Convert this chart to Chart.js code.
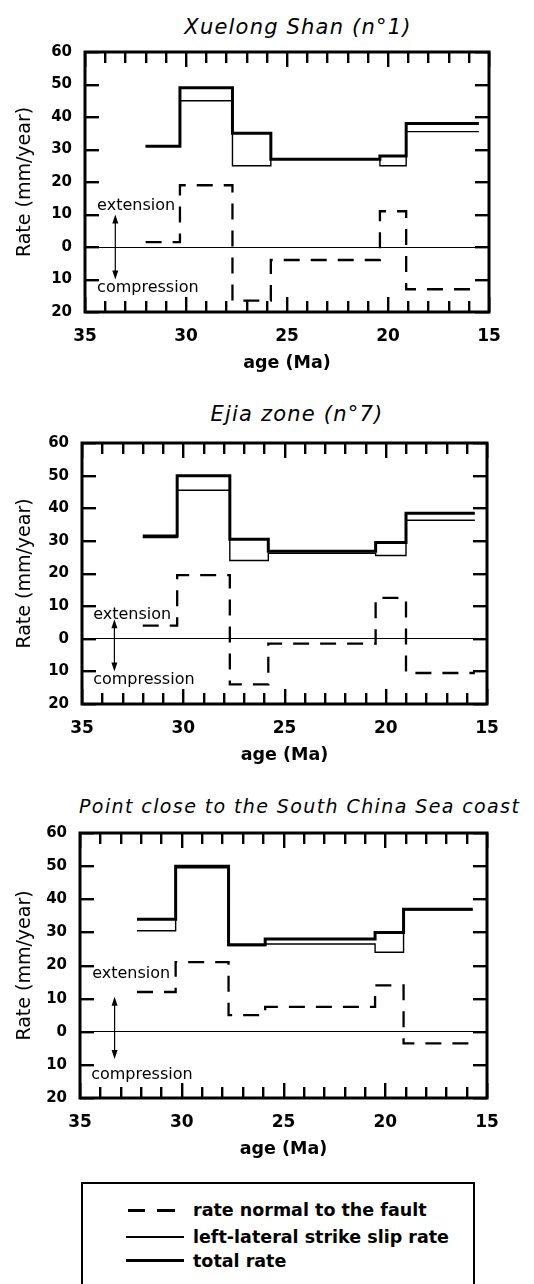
<!DOCTYPE html>
<html>
<head>
<meta charset="utf-8">
<title>Fault slip rates</title>
<script src="https://cdn.jsdelivr.net/npm/chart.js@4.4.1/dist/chart.umd.min.js"></script>
<style>
  html, body { margin: 0; padding: 0; background: #fff; }
  body {
    width: 534px; height: 1284px; position: relative; overflow: hidden;
    font-family: "DejaVu Sans", sans-serif; color: #000;
  }
  canvas { position: absolute; left: 0; }
  .title { position: absolute; font-style: oblique; white-space: nowrap; line-height: 1; }
  #legend-box {
    position: absolute; left: 81px; top: 1182px; width: 394px; height: 120px;
    border: 2.5px solid #000; box-sizing: border-box;
  }
  .leg-text { position: absolute; left: 193px; font-weight: bold; font-size: 17.5px; line-height: 20px; white-space: nowrap; }
  .leg-line { position: absolute; background: #000; }
</style>
</head>
<body>

<div class="title" style="left:298px; top:17px; font-size:21px; letter-spacing:1.2px; transform:translateX(-50%);">Xuelong Shan (n°1)</div>
<canvas id="c1" width="534" height="340" style="top:40px"></canvas>

<div class="title" style="left:297px; top:404px; font-size:21px; letter-spacing:1.2px; transform:translateX(-50%);">Ejia zone (n°7)</div>
<canvas id="c2" width="534" height="342" style="top:430px"></canvas>

<div class="title" style="left:79px; top:797px; font-size:19px; letter-spacing:1.4px;">Point close to the South China Sea coast</div>
<canvas id="c3" width="534" height="346" style="top:820px"></canvas>

<div id="legend-box"></div>
<div class="leg-line" style="left:128px; top:1209px; width:17px; height:2.5px"></div>
<div class="leg-line" style="left:157px; top:1209px; width:18px; height:2.5px"></div>
<div class="leg-text" style="top:1200px">rate normal to the fault</div>
<div class="leg-line" style="left:126px; top:1236px; width:58px; height:1.5px"></div>
<div class="leg-text" style="top:1227px">left-lateral strike slip rate</div>
<div class="leg-line" style="left:126px; top:1259px; width:58px; height:3px"></div>
<div class="leg-text" style="top:1251px">total rate</div>

<script>
// ages in Ma (start of each step, last entry = end of the record), rates in mm/year
// negative rate normal to the fault = compression
const xuelongAges   = [32.0, 30.3, 27.7, 25.8, 20.4, 19.1, 15.5];
const xuelongTotal  = [31, 49, 35, 27, 28, 38];
const xuelongStrike = [31, 45, 25, 27, 25, 35.5];
const xuelongNormal = [1.5, 19, -16.5, -4, 11, -13];

const ejiaAges   = [32.0, 30.3, 27.7, 25.8, 20.5, 19.0, 15.6];
const ejiaTotal  = [31.5, 50, 30.5, 26.8, 29.5, 38.5];
const ejiaStrike = [31, 45.5, 24, 26.2, 25.5, 36.3];
const ejiaNormal = [4, 19.5, -14, -1.5, 12.5, -10.5];

const coastAges   = [32.2, 30.3, 27.7, 25.9, 20.5, 19.1, 15.7];
const coastTotal  = [34, 50, 26.3, 28, 30, 37];
const coastStrike = [30.5, 49.5, 26, 26.5, 24, 36.8];
const coastNormal = [12, 21, 5, 7.5, 14, -3.5];

const xTicks = [15, 20, 25, 30, 35];
const yTicks = [-20, -10, 0, 10, 20, 30, 40, 50, 60];

Chart.defaults.font.family = "'DejaVu Sans', sans-serif";
Chart.defaults.color = "#000";

// step points: each value holds from its age until the next age
function steps(ages, values) {
  const pts = values.map((v, i) => ({ x: ages[i], y: v }));
  pts.push({ x: ages[ages.length - 1], y: values[values.length - 1] });
  return pts;
}

// frame, inward tick marks and the extension / compression annotation
const framePlugin = {
  id: "frame",
  afterDraw(chart) {
    const opts = chart.options.plugins.frame;
    const { ctx, chartArea: a } = chart;
    const x = chart.scales.x;
    const y = chart.scales.y;
    ctx.save();
    ctx.fillStyle = "#000";
    ctx.strokeStyle = "#000";

    // minor ticks every 1 Ma, longer every 5 Ma, top and bottom
    for (let v = 15; v <= 35; v++) {
      const px = Math.round(x.getPixelForValue(v));
      const len = v % 5 === 0 ? 15 : 11;
      ctx.fillRect(px - 1, a.bottom - len, 2.4, len);
      ctx.fillRect(px - 1, a.top, 2.4, len);
    }
    yTicks.forEach((v) => {
      const py = Math.round(y.getPixelForValue(v));
      ctx.fillRect(a.left, py - 1, 14, 2.4);
      ctx.fillRect(a.right - 14, py - 1, 14, 2.4);
    });

    ctx.lineWidth = 3;
    ctx.strokeRect(a.left, a.top, a.right - a.left, a.bottom - a.top);

    ctx.font = "16px 'DejaVu Sans'";
    ctx.textAlign = "left";
    ctx.textBaseline = "middle";
    ctx.fillText("extension", x.getPixelForValue(opts.ext[0]), y.getPixelForValue(opts.ext[1]));
    ctx.fillText("compression", x.getPixelForValue(opts.comp[0]), y.getPixelForValue(opts.comp[1]));

    const ax = x.getPixelForValue(opts.arrow[0]);
    const ay1 = y.getPixelForValue(opts.arrow[1]);
    const ay2 = y.getPixelForValue(opts.arrow[2]);
    ctx.fillRect(ax - 0.6, ay1 + 5, 1.2, ay2 - ay1 - 10);
    ctx.beginPath();
    ctx.moveTo(ax, ay1);
    ctx.lineTo(ax - 3, ay1 + 9);
    ctx.lineTo(ax + 3, ay1 + 9);
    ctx.closePath();
    ctx.moveTo(ax, ay2);
    ctx.lineTo(ax - 3, ay2 - 9);
    ctx.lineTo(ax + 3, ay2 - 9);
    ctx.closePath();
    ctx.fill();
    ctx.restore();
  },
};

const panels = [
  {
    id: "c1", padTop: 12, left: 85, right: 489,
    ages: xuelongAges, total: xuelongTotal, strike: xuelongStrike, normal: xuelongNormal,
    ext: [34.4, 12.6], comp: [34.4, -12.6], arrow: [33.5, 10, -10],
  },
  {
    id: "c2", padTop: 13, left: 82, right: 487,
    ages: ejiaAges, total: ejiaTotal, strike: ejiaStrike, normal: ejiaNormal,
    ext: [34.45, 7.3], comp: [34.45, -12.6], arrow: [33.4, 6, -10],
  },
  {
    id: "c3", padTop: 13, left: 80, right: 487,
    ages: coastAges, total: coastTotal, strike: coastStrike, normal: coastNormal,
    ext: [34.4, 17.4], comp: [34.45, -12.9], arrow: [33.3, 10.6, -8.2],
  },
];

panels.forEach((p) => {
  const line = (data, width, dash) => ({
    data: data,
    stepped: true,
    borderColor: "#000",
    borderWidth: width,
    borderDash: dash,
    borderCapStyle: "butt",
    pointRadius: 0,
    fill: false,
  });

  new Chart(document.getElementById(p.id), {
    type: "line",
    data: {
      datasets: [
        line(steps(p.ages, p.normal), 2.3, [16, 11]),
        line(steps(p.ages, p.total), 3, []),
        line(steps(p.ages, p.strike), 1.4, []),
      ],
    },
    options: {
      responsive: false,
      animation: false,
      layout: { padding: { top: p.padTop, right: 534 - p.right, left: 0, bottom: 0 } },
      plugins: {
        legend: { display: false },
        tooltip: { enabled: false },
        frame: { ext: p.ext, comp: p.comp, arrow: p.arrow },
      },
      scales: {
        x: {
          type: "linear",
          reverse: true,
          min: 15,
          max: 35,
          afterBuildTicks: (s) => { s.ticks = xTicks.map((v) => ({ value: v })); },
          afterFit: (s) => { s.height = 68; s.paddingLeft = 0; s.paddingRight = 0; },
          grid: { display: false, drawTicks: false },
          border: { display: false },
          ticks: { padding: 14, maxRotation: 0, autoSkip: false, font: { size: 17, weight: "bold" } },
          title: {
            display: true,
            text: "age (Ma)",
            font: { size: 17.5, weight: "bold" },
            padding: { top: 0, bottom: 6 },
          },
        },
        y: {
          type: "linear",
          min: -20,
          max: 60,
          afterBuildTicks: (s) => { s.ticks = yTicks.map((v) => ({ value: v })); },
          afterFit: (s) => { s.width = p.left; s.paddingTop = 0; s.paddingBottom = 0; },
          grid: {
            drawTicks: false,
            lineWidth: 1,
            color: (c) => (c.tick && c.tick.value === 0 ? "#000" : "rgba(0,0,0,0)"),
          },
          border: { display: false },
          ticks: { padding: 13, font: { size: 15, weight: "bold" }, callback: (v) => Math.abs(v) },
          title: {
            display: true,
            text: "Rate (mm/year)",
            font: { size: 19 },
            padding: { top: 14, bottom: 0 },
          },
        },
      },
    },
    plugins: [framePlugin],
  });
});
</script>
</body>
</html>
